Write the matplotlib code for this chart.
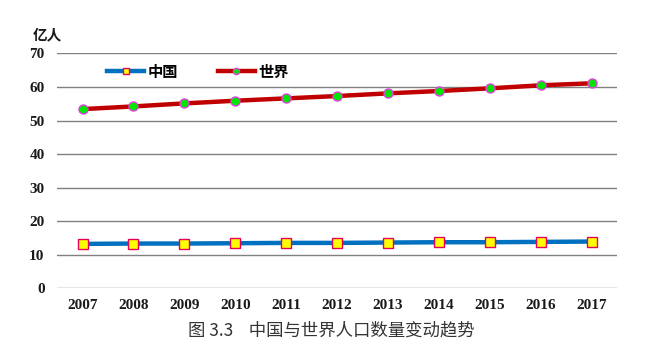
import matplotlib
matplotlib.use("Agg")
import matplotlib.pyplot as plt
from matplotlib.lines import Line2D

plt.rcParams['font.family'] = ['Noto Sans CJK SC', 'DejaVu Sans']

YEARS = ["2007", "2008", "2009", "2010", "2011", "2012",
         "2013", "2014", "2015", "2016", "2017"]
CHINA = [13.2, 13.3, 13.3, 13.4, 13.5, 13.5, 13.6, 13.7, 13.7, 13.8, 13.9]
WORLD = [53.4, 54.2, 55.1, 55.9, 56.6, 57.3, 58.1, 58.8, 59.6, 60.5, 61.1]
YTICKS = [0, 10, 20, 30, 40, 50, 60, 70]

fig = plt.figure(figsize=(6.71, 3.54), dpi=100)
ax = fig.add_axes([0.085, 0.186, 0.835, 0.663])

x = list(range(len(YEARS)))
ax.plot(x, CHINA, color="#0070C0", lw=3.2, marker="s", ms=6.5,
        mfc="#FFFF00", mec="#E6005C", mew=1.0, zorder=3)
ax.plot(x, WORLD, color="#C00000", lw=3.2, marker="o", ms=6.5,
        mfc="#00E600", mec="#E040E0", mew=1.0, zorder=3)

ax.set_xlim(-0.5, len(YEARS) - 0.5)
ax.set_ylim(0, 70)
ax.set_yticks(YTICKS)
ax.set_xticks(x)
ax.set_xticklabels(YEARS)
ax.yaxis.grid(True, color="#808080", lw=1.0)
ax.set_axisbelow(True)
for s in ax.spines.values():
    s.set_visible(False)
ax.tick_params(length=0)
ax.tick_params(axis="y", pad=9)
ax.tick_params(axis="x", pad=8)
for lab in ax.get_xticklabels() + ax.get_yticklabels():
    lab.set_fontfamily("Liberation Serif")
    lab.set_fontweight("bold")
    lab.set_fontsize(11)
    lab.set_color("#1a1a1a")

handles = [
    Line2D([0], [0], color="#0070C0", lw=3.2, marker="s", ms=5,
           mfc="#FFFF00", mec="#E6005C", mew=1.0),
    Line2D([0], [0], color="#C00000", lw=3.2, marker="o", ms=4.5,
           mfc="#00E600", mec="#E040E0", mew=1.0),
]
leg = ax.legend(handles, ["中国", "世界"], loc="upper left",
                bbox_to_anchor=(0.065, 1.015), ncol=2, frameon=False,
                handlelength=2.4, handletextpad=0.25, columnspacing=2.6,
                numpoints=1, prop={"family": ["Noto Sans CJK SC"],
                                   "weight": "bold", "size": 11})

fig.text(33 / 671, 1 - 34 / 354, "亿人", fontsize=10.5, fontweight="bold",
         ha="left", va="center", color="#1a1a1a")
fig.text(331 / 671, 1 - 330 / 354, "图 3.3    中国与世界人口数量变动趋势",
         fontsize=12.5, ha="center", va="center", color="#333333")

fig.savefig("out.png", dpi=100)
